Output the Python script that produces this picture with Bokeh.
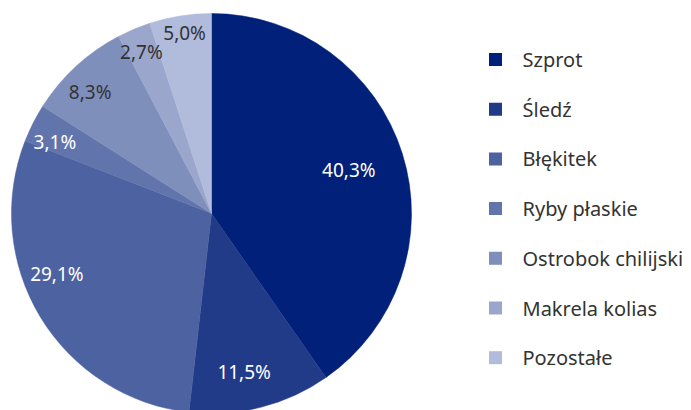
import math
from bokeh.plotting import figure
from bokeh.models import Range1d, ColumnDataSource
from bokeh.core.properties import value
from bokeh.embed import file_html
from bokeh.resources import INLINE

# ---- data ----
categories = ["Szprot", "Śledź", "Błękitek", "Ryby płaskie", "Ostrobok chilijski", "Makrela kolias", "Pozostałe"]
shares = [40.3, 11.5, 29.1, 3.1, 8.3, 2.7, 5.0]
colors = ["#012079", "#223b88", "#4c62a1", "#6174ab", "#7f8fbc", "#9aa6cb", "#b1bbdb"]
label_colors = ["#ffffff", "#ffffff", "#ffffff", "#ffffff", "#333333", "#333333", "#333333"]

# ---- layout (page pixels; figure origin at page 0,0) ----
W, H = 691, 410
FONT = "Noto Sans"
cx, cy_page, R = 211, 213, 200
label_rfrac = [0.72, 0.81, 0.83, 0.86, 0.86, 0.88, 0.91]
label_nudge = [0.0, 2.6, 9.8, -2.4, -2.2, -0.6, 0.5]


def ydat(page_y):
    return H - page_y


p = figure(width=W, height=H, output_backend="svg", toolbar_location=None,
           x_range=Range1d(0, W), y_range=Range1d(0, H),
           min_border=0)
p.axis.visible = False
p.grid.visible = False
p.outline_line_color = None
p.background_fill_color = "white"

total = sum(shares)
starts, ends = [], []
acc = 0.0
for s in shares:
    starts.append(math.pi / 2 - acc / total * 2 * math.pi)
    acc += s
    ends.append(math.pi / 2 - acc / total * 2 * math.pi)

src = ColumnDataSource(dict(x=[cx] * len(shares), y=[ydat(cy_page)] * len(shares),
                            start=starts, end=ends, color=colors))
p.wedge(x="x", y="y", radius=R, start_angle="start", end_angle="end",
        direction="clock", fill_color="color", line_color="color", line_width=0.5, source=src)

# labels
lx, ly, lt = [], [], []
acc = 0.0
for i, s in enumerate(shares):
    mid = (acc + s / 2) / total * 360 + label_nudge[i]
    acc += s
    a = math.radians(mid)
    r = label_rfrac[i] * R
    lx.append(cx + r * math.sin(a))
    ly.append(ydat(cy_page - r * math.cos(a)))
    lt.append(f"{s:.1f}%".replace(".", ","))
p.text(x=lx, y=ly, text=lt, text_color=label_colors, text_font=value(FONT),
       text_font_size="19px", text_align="center", text_baseline="middle")

# legend
leg_y0, leg_dy = 59, 49.7
ly2 = [ydat(leg_y0 + i * leg_dy) for i in range(len(categories))]
p.scatter(x=[495] * len(categories), y=ly2, marker="square", size=13,
          fill_color=colors, line_color=None)
p.text(x=[522] * len(categories), y=ly2, text=categories, text_color="#333333",
       text_font=value(FONT), text_font_size="20px", text_align="left", text_baseline="middle")

open("out.html", "w").write(file_html(p, INLINE))
